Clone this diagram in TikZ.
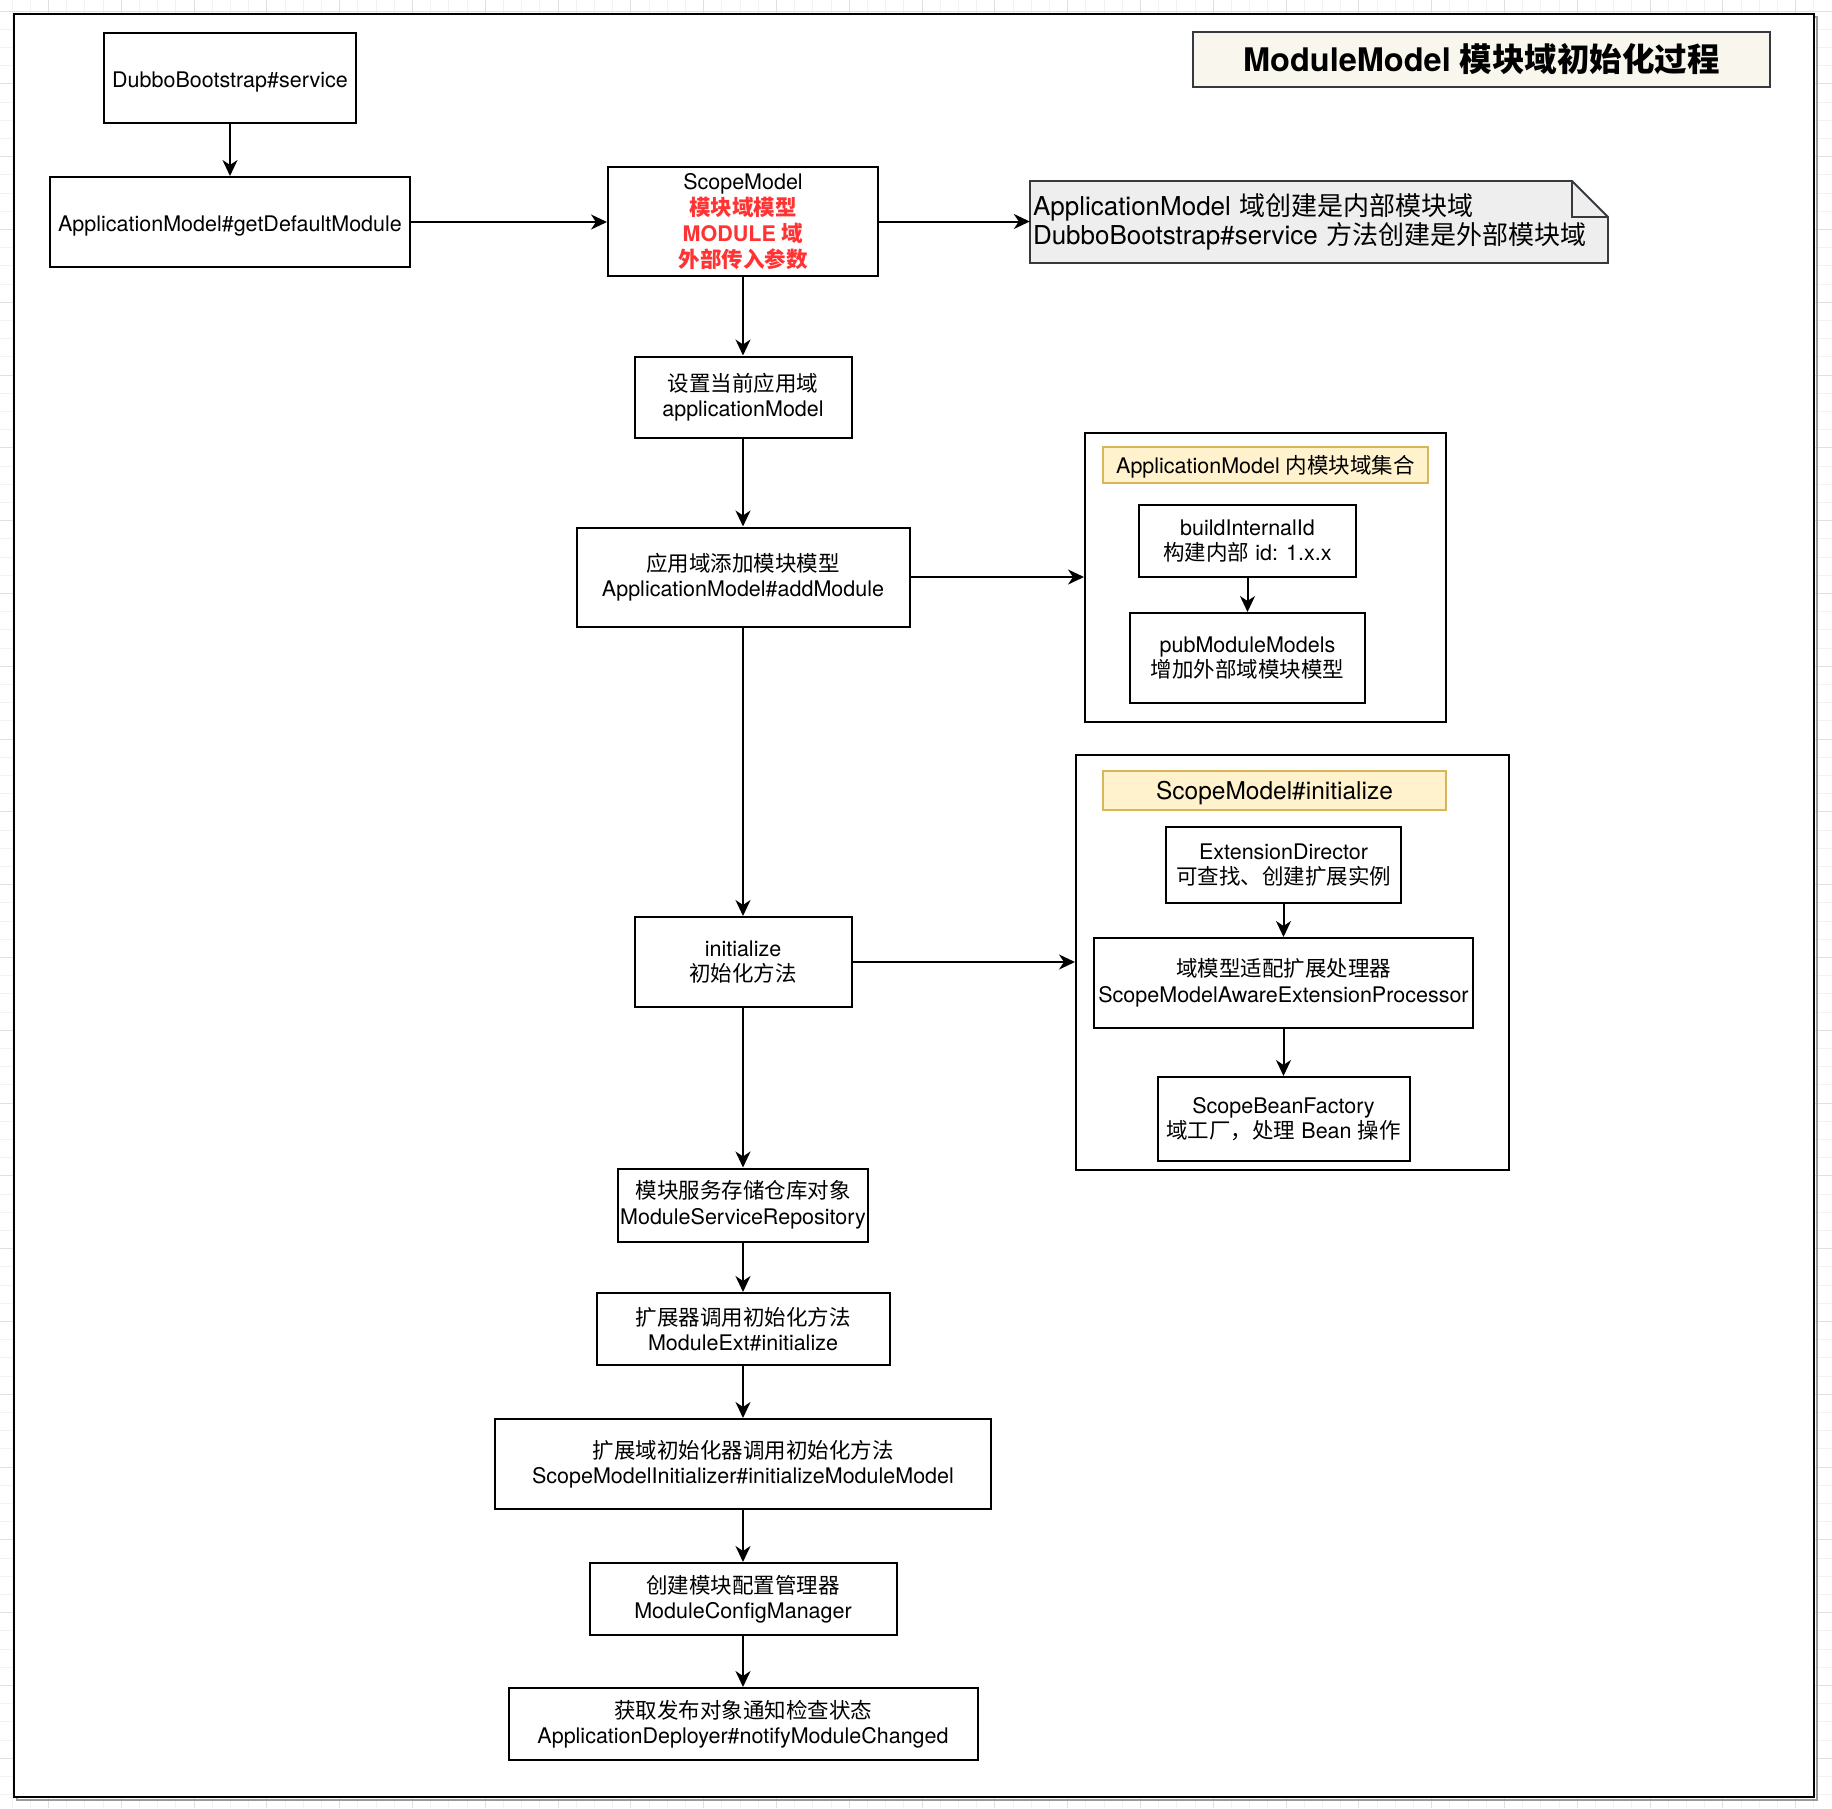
\documentclass[tikz,border=0pt]{standalone}
\usepackage{fontspec}
\setmainfont{TeX Gyre Heros}
\newfontfamily\cjk{Noto Sans CJK SC}
\usetikzlibrary{arrows.meta}
\definecolor{redtxt}{HTML}{FF3333}
\definecolor{titlefill}{HTML}{F9F7ED}
\definecolor{notefill}{HTML}{EEEEEE}
\definecolor{darkstroke}{HTML}{36393D}
\definecolor{hdrfill}{HTML}{FFF2CC}
\definecolor{hdrstroke}{HTML}{D6B656}
\definecolor{gridminor}{HTML}{F2F2F2}
\definecolor{gridmajor}{HTML}{E0E0E0}
\definecolor{shadowgray}{HTML}{9A9A9A}
\begin{document}
\begin{tikzpicture}[x=1pt,y=-1pt,
  box/.style={draw=black, line width=2pt, fill=white, rectangle, inner sep=0pt,
    align=center, font=\fontsize{21.5}{25.5}\selectfont},
  oneline/.style={text height=19pt, text depth=0pt},
  grp/.style={draw=black, line width=2pt, fill=white, rectangle, inner sep=0pt},
  hdr/.style={draw=hdrstroke, line width=2pt, fill=hdrfill, rectangle, inner sep=0pt,
    align=center, font=\fontsize{21.5}{25.5}\selectfont},
  titlebox/.style={draw=darkstroke, line width=2pt, fill=titlefill, rectangle, inner sep=0pt,
    align=center, font=\fontsize{32.5}{38}\selectfont\bfseries},
  notetext/.style={rectangle, inner xsep=3pt, inner ysep=0pt, align=left,
    font=\fontsize{26}{29}\selectfont},
  arr/.style={draw=black, line width=2pt, -{Stealth[length=16pt,width=15pt,inset=5pt]}}
]
\useasboundingbox (0,0) rectangle (1832,1808);
% background grid (draw.io canvas)
\foreach \k in {0,...,100} {
  \pgfmathsetmacro\xx{12+18.2*\k}
  \draw[gridminor, line width=1pt] (\xx,0) -- (\xx,1808);
}
\foreach \k in {0,...,99} {
  \pgfmathsetmacro\yy{11+18.2*\k}
  \draw[gridminor, line width=1pt] (0,\yy) -- (1832,\yy);
}
\foreach \k in {0,...,24} {
  \pgfmathsetmacro\xx{48.4+72.8*\k}
  \draw[gridmajor, line width=1pt] (\xx,0) -- (\xx,1808);
}
\foreach \k in {0,...,24} {
  \pgfmathsetmacro\yy{11+72.8*\k}
  \draw[gridmajor, line width=1pt] (0,\yy) -- (1832,\yy);
}
% outer frame with shadow
\draw[shadowgray, line width=2.5pt] (17,17) rectangle (1817,1800);
\filldraw[fill=white, draw=black, line width=2.5pt] (14,14) rectangle (1814,1797);

% title
\node[titlebox, minimum width=577pt, minimum height=55pt] (title) at (1481.5,59.5)
  {ModuleModel {\cjk 模块域初始化过程}};

% left top boxes
\node[box, oneline, minimum width=252pt, minimum height=90pt] (dubbo) at (230,78) {DubboBootstrap\#service};
\node[box, oneline, minimum width=360pt, minimum height=90pt] (getdef) at (230,222) {ApplicationModel\#getDefaultModule};
\node[box, minimum width=270pt, minimum height=109pt, font=\fontsize{21.5}{26}\selectfont] (scope) at (743,221.5)
  {ScopeModel\\{\color{redtxt}\bfseries\cjk 模块域模型}\\{\color{redtxt}\bfseries MODULE {\cjk 域}}\\{\color{redtxt}\bfseries\cjk 外部传入参数}};

% note with folded corner
\filldraw[fill=notefill, draw=darkstroke, line width=1.8pt]
  (1030,181) -- (1572,181) -- (1608,217) -- (1608,263) -- (1030,263) -- cycle;
\draw[darkstroke, line width=1.8pt] (1572,181) -- (1572,217) -- (1608,217);
\node[notetext, minimum width=578pt, minimum height=82pt, text width=572pt] (note) at (1319,221.5)
  {ApplicationModel {\cjk 域创建是内部模块域}\\DubboBootstrap\#service {\cjk 方法创建是外部模块域}};

% main column
\node[box, minimum width=217pt, minimum height=81pt] (setapp) at (743,397) {{\cjk 设置当前应用域}\\applicationModel};
\node[box, minimum width=333pt, minimum height=99pt] (addmod) at (743,577) {{\cjk 应用域添加模块模型}\\ApplicationModel\#addModule};
\node[box, minimum width=217pt, minimum height=90pt] (init) at (743,962) {initialize\\{\cjk 初始化方法}};
\node[box, minimum width=250pt, minimum height=73pt] (repo) at (743,1205) {{\cjk 模块服务存储仓库对象}\\ModuleServiceRepository};
\node[box, minimum width=293pt, minimum height=72pt] (ext) at (743,1329) {{\cjk 扩展器调用初始化方法}\\ModuleExt\#initialize};
\node[box, minimum width=496pt, minimum height=90pt] (smi) at (743,1464) {{\cjk 扩展域初始化器调用初始化方法}\\ScopeModelInitializer\#initializeModuleModel};
\node[box, minimum width=307pt, minimum height=72pt] (cfg) at (743,1599) {{\cjk 创建模块配置管理器}\\ModuleConfigManager};
\node[box, minimum width=469pt, minimum height=72pt] (dep) at (743,1724) {{\cjk 获取发布对象通知检查状态}\\ApplicationDeployer\#notifyModuleChanged};

% group 1
\node[grp, minimum width=361pt, minimum height=289pt] (g1) at (1265.5,577.5) {};
\node[hdr, minimum width=325pt, minimum height=36pt, text height=16.8pt, text depth=0pt] (h1) at (1265.5,465) {ApplicationModel {\cjk 内模块域集合}};
\node[box, minimum width=217pt, minimum height=72pt] (build) at (1247.5,541) {buildInternalId\\{\cjk 构建内部} id: 1.x.x};
\node[box, minimum width=235pt, minimum height=90pt] (pub) at (1247.5,658) {pubModuleModels\\{\cjk 增加外部域模块模型}};

% group 2
\node[grp, minimum width=433pt, minimum height=415pt] (g2) at (1292.5,962.5) {};
\node[hdr, minimum width=343pt, minimum height=39pt, font=\fontsize{24.5}{29}\selectfont, text height=18pt, text depth=0pt] (h2) at (1274.5,790.5) {ScopeModel\#initialize};
\node[box, minimum width=235pt, minimum height=76pt] (ed) at (1283.5,865) {ExtensionDirector\\{\cjk 可查找、创建扩展实例}};
\node[box, minimum width=379pt, minimum height=90pt] (proc) at (1283.5,983) {{\cjk 域模型适配扩展处理器}\\ScopeModelAwareExtensionProcessor};
\node[box, minimum width=252pt, minimum height=84pt] (sbf) at (1283.5,1119) {ScopeBeanFactory\\{\cjk 域工厂，处理} Bean {\cjk 操作}};

% connectors
\draw[arr] (dubbo.south) -- (getdef.north);
\draw[arr] (getdef.east) -- (getdef.east -| scope.west);
\draw[arr] (scope.east) -- (scope.east -| note.west);
\draw[arr] (scope.south) -- (setapp.north);
\draw[arr] (setapp.south) -- (addmod.north);
\draw[arr] (addmod.east) -- (addmod.east -| g1.west);
\draw[arr] (addmod.south) -- (init.north);
\draw[arr] (init.east) -- (init.east -| g2.west);
\draw[arr] (init.south) -- (repo.north);
\draw[arr] (repo.south) -- (ext.north);
\draw[arr] (ext.south) -- (smi.north);
\draw[arr] (smi.south) -- (cfg.north);
\draw[arr] (cfg.south) -- (dep.north);
\draw[arr] (build.south) -- (pub.north);
\draw[arr] (ed.south) -- (proc.north);
\draw[arr] (proc.south) -- (sbf.north);
\end{tikzpicture}
\end{document}
